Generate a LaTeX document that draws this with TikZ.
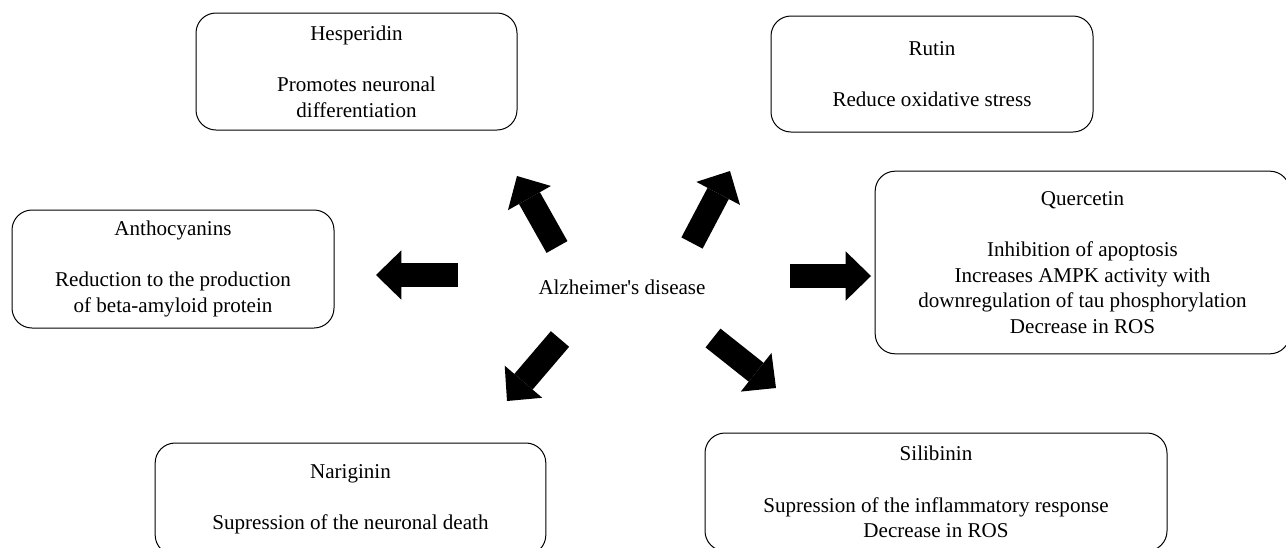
\documentclass[tikz,border=0pt]{standalone}
\usepackage{fontspec}
\setmainfont{Liberation Serif}
\usetikzlibrary{arrows.meta}

\begin{document}
\begin{tikzpicture}[x=0.75pt, y=-0.75pt]
	\tikzset{txt/.style={font=\fontsize{15.8}{19.3}\selectfont},
		box/.style={txt, draw, rounded corners=15pt, line width=0.75pt, align=center, inner sep=0pt},
		fat/.style={line width=18pt, line cap=butt, -{Triangle[width=37pt, length=19pt, line width=0pt]}}}
	
	\useasboundingbox (0,0) rectangle (1286,547);
	\clip (0,0) rectangle (1286,547);
	
	\node[txt] (ad) at (622,287) {Alzheimer\textquotesingle s disease};
	
	\node[box, minimum width=240.75pt, minimum height=87.75pt] (hes) at (356.5,71.5) {Hesperidin\\[19.3pt]Promotes neuronal\\differentiation};
	\node[box, minimum width=241.5pt, minimum height=87pt] (rut) at (932,74) {Rutin\\[19.3pt]Reduce oxidative stress};
	\node[box, minimum width=241.5pt, minimum height=88.5pt] (ant) at (173,269) {Anthocyanins\\[19.3pt]Reduction to the production\\of beta-amyloid protein};
	\node[box, minimum width=311pt, minimum height=137pt] (que) at (1082.5,262.5) {Quercetin\\[19.3pt]Inhibition of apoptosis\\Increases AMPK activity with\\downregulation of tau phosphorylation\\Decrease in ROS};
	\node[box, minimum width=293pt, minimum height=84pt] (nar) at (350.5,499) {Nariginin\\[19.3pt]Supression of the neuronal death};
	\node[box, minimum width=346.5pt, minimum height=88.5pt] (sil) at (936,492) {Silibinin\\[19.3pt]Supression of the inflammatory response\\Decrease in ROS};
	
	% arrow ends round the centre text
	\coordinate (ul0) at (557,247);  \coordinate (ul1) at (517,176);
	\coordinate (ur0) at (692,243);  \coordinate (ur1) at (730,171);
	\coordinate (l0) at (458,275);   \coordinate (l1) at (376,275);
	\coordinate (r0) at (790,276);   \coordinate (r1) at (871,276);
	\coordinate (dl0) at (560,339);  \coordinate (dl1) at (507,401);
	\coordinate (dr0) at (713,338);  \coordinate (dr1) at (776,388);
	
	\draw[fat] (ul0) -- (ul1);
	\draw[fat] (ur0) -- (ur1);
	\draw[fat] (l0) -- (l1);
	\draw[fat] (r0) -- (r1);
	\draw[fat] (dl0) -- (dl1);
	\draw[fat] (dr0) -- (dr1);
\end{tikzpicture}
\end{document}
